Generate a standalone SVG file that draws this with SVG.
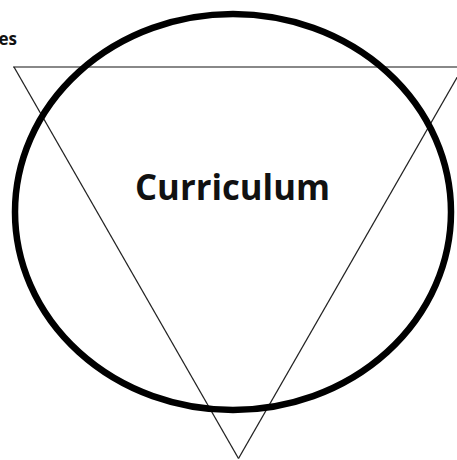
<svg xmlns="http://www.w3.org/2000/svg" width="457" height="460" viewBox="0 0 457 460">
<style>
.lbl{font-family:"Open Sans","Liberation Sans",sans-serif;fill:#111}
.tri{fill:none;stroke:#222;stroke-width:1.3}
.top{stroke:#888;stroke-width:2.2}
.circ{fill:none;stroke:#000;stroke-width:6.5}
</style>
<rect width="457" height="460" fill="#fff"/>
<g id="label-partial">
<text class="lbl" x="17" y="45" font-size="17" font-weight="bold" text-anchor="end">es</text>
</g>
<g id="connectors">
<g id="triangle">
<line class="tri top" x1="13" y1="67" x2="457" y2="67"/>
<line class="tri" x1="14" y1="67" x2="238.5" y2="458.5"/>
<line class="tri" x1="463" y1="67" x2="238.5" y2="458.5"/>
</g>
</g>
<g id="circle-node">
<ellipse class="circ" cx="233" cy="212" rx="218" ry="198"/>
</g>
<g id="curriculum">
<text class="lbl" x="135" y="200" font-size="36" font-weight="bold" textLength="195" lengthAdjust="spacingAndGlyphs">Curriculum</text>
</g>
</svg>
